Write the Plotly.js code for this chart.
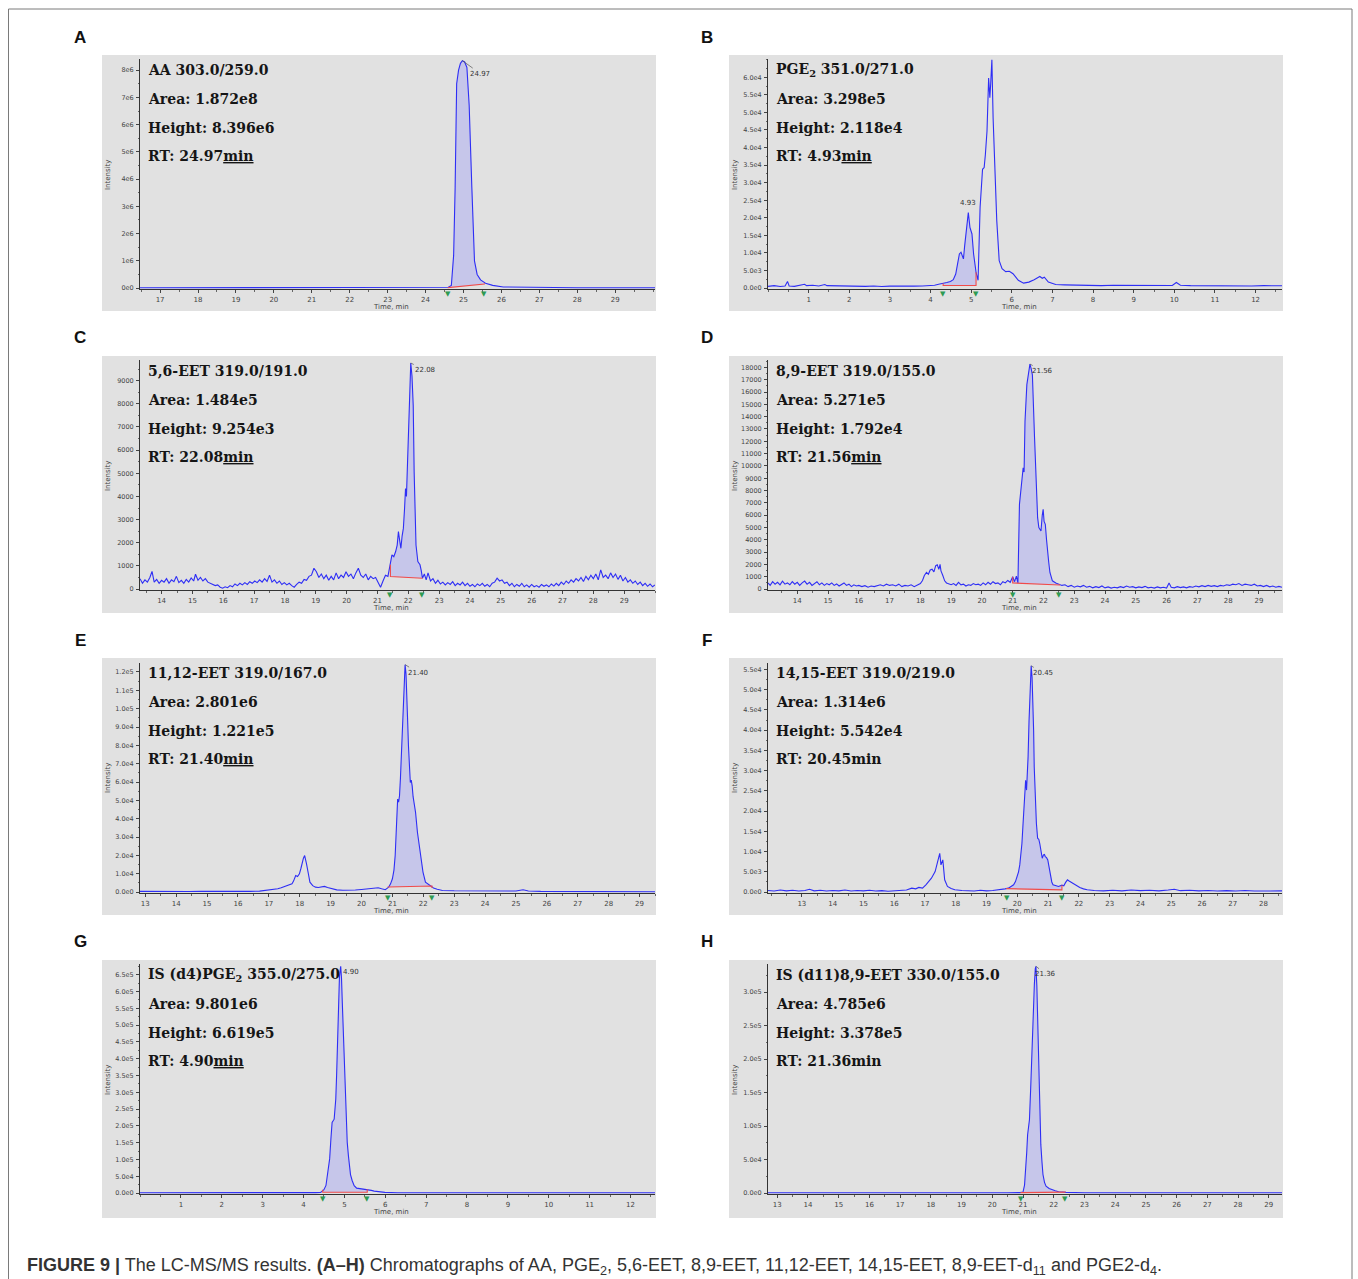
<!DOCTYPE html>
<html><head><meta charset="utf-8">
<script src="https://cdn.plot.ly/plotly-3.0.1.min.js"></script>
<style>html,body{margin:0;padding:0;background:#fff;}#chart{width:1358px;height:1279px;}</style>
</head><body><div id="chart"></div>
<script>
// ---------------- DATA (time in min, intensity in cps) ----------------
const A_points = [[16.47,1e4],[17.5,1e4],[18.5,1e4],[19.5,1.2e4],[20.5,1e4],[21.5,1.2e4],[22.5,1.5e4],[22.9,3e4],[23.3,3e4],[23.8,2e4],[24.3,3e4],[24.6,3e4],[24.68,1e5],[24.74,1.2e6],[24.78,3.7e6],[24.82,7.5e6],[24.87,8.0e6],[24.92,8.25e6],[24.97,8.35e6],[25.03,8.3e6],[25.09,8.1e6],[25.15,6.7e6],[25.22,3.7e6],[25.29,1.0e6],[25.36,5e5],[25.45,3e5],[25.58,1.8e5],[25.77,1e5],[26.05,4e4],[26.5,3e4],[27.0,2e4],[27.5,2e4],[28.0,1e4],[29.0,1e4],[30.05,1e4]];

const B_points = [[0,500],[0.15,700],[0.3,450],[0.42,600],[0.48,1900],[0.52,600],[0.65,500],[0.8,800],[0.9,1100],[0.95,700],[1.1,800],[1.25,600],[1.4,1000],[1.45,700],[1.6,650],[1.8,500],[2.0,600],[2.2,550],[2.4,500],[2.6,600],[2.8,450],[3.0,550],[3.2,500],[3.4,450],[3.6,550],[3.8,600],[3.95,700],[4.1,800],[4.2,1100],[4.31,1300],[4.4,1600],[4.49,1900],[4.56,2400],[4.62,4000],[4.67,7500],[4.71,9700],[4.75,10200],[4.78,9000],[4.81,8300],[4.84,12000],[4.87,15900],[4.9,17800],[4.93,21500],[4.97,17300],[5.02,15400],[5.06,9700],[5.12,4500],[5.17,2200],[5.22,23000],[5.28,33800],[5.32,34300],[5.35,38000],[5.39,44700],[5.43,59800],[5.46,54200],[5.48,58000],[5.51,65000],[5.54,48500],[5.59,28600],[5.63,19200],[5.69,7800],[5.76,5500],[5.85,4700],[5.94,4800],[6.03,4100],[6.16,2200],[6.29,1400],[6.42,1700],[6.55,2400],[6.69,3300],[6.75,2800],[6.8,3100],[6.9,1700],[7.08,1000],[7.3,900],[7.6,800],[7.9,900],[8.2,700],[8.5,800],[8.8,750],[9.1,700],[9.4,650],[9.7,700],[9.95,750],[10.05,1600],[10.15,800],[10.4,700],[10.7,650],[11.0,700],[11.3,600],[11.6,650],[11.9,600],[12.2,700],[12.4,600],[12.65,650]];

const C_points = [[13.30,450],[13.38,250],[13.46,400],[13.54,300],[13.62,500],[13.69,760],[13.76,300],[13.84,420],[13.92,250],[14.00,380],[14.08,300],[14.16,450],[14.24,250],[14.32,400],[14.40,320],[14.48,550],[14.56,280],[14.64,380],[14.72,250],[14.80,420],[14.88,300],[14.96,480],[15.04,350],[15.10,640],[15.18,380],[15.26,500],[15.34,350],[15.42,450],[15.50,300],[15.58,250],[15.66,200],[15.74,150],[15.82,180],[15.90,80],[15.98,40],[16.06,100],[16.14,60],[16.22,150],[16.30,100],[16.38,220],[16.46,150],[16.54,250],[16.62,180],[16.70,280],[16.78,200],[16.86,320],[16.94,250],[17.02,350],[17.10,280],[17.18,400],[17.26,300],[17.34,450],[17.42,330],[17.50,600],[17.58,300],[17.66,400],[17.74,250],[17.82,350],[17.90,200],[17.98,280],[18.06,180],[18.14,250],[18.22,150],[18.30,80],[18.38,200],[18.46,300],[18.54,250],[18.62,420],[18.70,380],[18.78,550],[18.86,600],[18.94,900],[19.02,750],[19.10,500],[19.18,650],[19.26,450],[19.34,600],[19.42,380],[19.50,550],[19.58,400],[19.66,700],[19.74,450],[19.82,600],[19.90,500],[19.98,750],[20.06,550],[20.14,650],[20.22,450],[20.30,700],[20.38,900],[20.46,600],[20.54,500],[20.62,650],[20.70,400],[20.78,550],[20.86,450],[20.94,500],[21.02,300],[21.10,80],[21.18,350],[21.26,600],[21.34,550],[21.42,1050],[21.47,1480],[21.53,1400],[21.59,1620],[21.64,1900],[21.68,2480],[21.72,2100],[21.76,1760],[21.80,2300],[21.84,2620],[21.88,3500],[21.91,4340],[21.94,4000],[21.96,4770],[21.99,6000],[22.01,7200],[22.05,8140],[22.08,9760],[22.12,9200],[22.16,7920],[22.19,5060],[22.22,3500],[22.25,1900],[22.31,1190],[22.38,1050],[22.42,800],[22.46,470],[22.52,650],[22.58,400],[22.64,700],[22.72,350],[22.80,450],[22.88,250],[22.96,380],[23.04,220],[23.12,300],[23.20,180],[23.28,280],[23.36,200],[23.44,320],[23.52,150],[23.60,250],[23.68,180],[23.76,300],[23.84,150],[23.92,250],[24.00,120],[24.08,200],[24.16,100],[24.24,220],[24.32,150],[24.40,250],[24.48,120],[24.56,200],[24.64,100],[24.72,250],[24.80,300],[24.88,470],[24.96,350],[25.04,400],[25.12,250],[25.20,300],[25.28,150],[25.36,250],[25.44,100],[25.52,200],[25.60,120],[25.68,250],[25.76,100],[25.84,180],[25.92,80],[26.00,200],[26.08,100],[26.16,150],[26.24,80],[26.32,200],[26.40,120],[26.48,180],[26.56,100],[26.64,220],[26.72,130],[26.80,250],[26.88,150],[26.96,300],[27.04,200],[27.12,350],[27.20,250],[27.28,400],[27.36,300],[27.44,450],[27.52,350],[27.60,500],[27.68,330],[27.76,550],[27.84,400],[27.92,600],[28.00,450],[28.08,650],[28.16,400],[28.24,830],[28.32,500],[28.40,600],[28.48,450],[28.56,700],[28.64,500],[28.72,650],[28.80,420],[28.88,600],[28.96,350],[29.04,500],[29.12,300],[29.20,400],[29.28,250],[29.36,350],[29.44,200],[29.52,300],[29.60,150],[29.68,250],[29.76,120],[29.84,220],[29.92,100],[30.00,180]];

const D_points = [[13.05,500],[13.12,300],[13.2,600],[13.28,400],[13.36,550],[13.44,350],[13.52,650],[13.6,400],[13.68,500],[13.76,350],[13.84,600],[13.92,400],[14.0,550],[14.08,300],[14.16,500],[14.24,650],[14.32,400],[14.4,550],[14.48,300],[14.56,450],[14.64,600],[14.72,350],[14.8,500],[14.88,300],[14.96,450],[15.04,350],[15.12,500],[15.2,300],[15.28,420],[15.36,250],[15.44,400],[15.52,500],[15.6,300],[15.68,400],[15.76,200],[15.84,350],[15.92,250],[16.0,300],[16.1,200],[16.2,280],[16.3,150],[16.4,250],[16.5,200],[16.6,300],[16.7,350],[16.8,250],[16.9,400],[17.0,300],[17.1,350],[17.2,250],[17.3,400],[17.4,200],[17.5,300],[17.6,250],[17.7,350],[17.8,200],[17.9,300],[18.0,450],[18.07,700],[18.13,1100],[18.2,1350],[18.26,1200],[18.32,1550],[18.38,1620],[18.44,1400],[18.5,1900],[18.55,1970],[18.6,1600],[18.64,2000],[18.67,1480],[18.73,1100],[18.79,670],[18.85,500],[18.92,400],[19.0,350],[19.08,450],[19.16,300],[19.24,550],[19.32,350],[19.4,400],[19.48,250],[19.56,350],[19.64,300],[19.72,450],[19.8,350],[19.88,400],[19.96,300],[20.04,500],[20.12,350],[20.2,550],[20.28,400],[20.36,600],[20.44,450],[20.52,500],[20.6,350],[20.68,600],[20.76,500],[20.84,700],[20.92,550],[21.0,1000],[21.06,600],[21.12,1050],[21.17,500],[21.22,6880],[21.28,8500],[21.34,9850],[21.37,9500],[21.4,13600],[21.46,16600],[21.51,17400],[21.56,18270],[21.6,17900],[21.64,17400],[21.71,12300],[21.78,6600],[21.81,5800],[21.85,5000],[21.92,4720],[21.96,6000],[21.99,6480],[22.02,5500],[22.06,5260],[22.1,4000],[22.13,2830],[22.17,2200],[22.21,1350],[22.25,900],[22.29,670],[22.4,500],[22.5,400],[22.6,300],[22.7,350],[22.8,200],[22.9,300],[23.0,150],[23.1,250],[23.2,180],[23.3,300],[23.4,150],[23.5,220],[23.6,100],[23.7,200],[23.8,120],[23.9,250],[24.0,100],[24.1,180],[24.2,80],[24.3,150],[24.4,100],[24.5,200],[24.6,120],[24.7,250],[24.8,150],[24.9,200],[25.0,100],[25.1,180],[25.2,120],[25.3,220],[25.4,100],[25.5,150],[25.6,80],[25.7,180],[25.8,100],[25.9,150],[26.0,80],[26.08,500],[26.15,150],[26.25,100],[26.35,200],[26.45,120],[26.55,180],[26.65,100],[26.75,200],[26.85,150],[26.95,250],[27.05,180],[27.15,280],[27.25,200],[27.35,300],[27.45,220],[27.55,280],[27.65,200],[27.75,300],[27.85,250],[27.95,350],[28.05,300],[28.15,400],[28.25,350],[28.35,450],[28.45,300],[28.55,400],[28.65,350],[28.75,300],[28.85,400],[28.95,250],[29.05,300],[29.15,200],[29.25,300],[29.35,180],[29.45,250],[29.55,150],[29.65,220],[29.75,150]];

const E_points = [[12.83,400],[13.2,300],[13.6,400],[14.0,350],[14.4,300],[14.8,400],[15.2,300],[15.6,350],[16.0,300],[16.4,400],[16.7,500],[16.94,900],[17.1,1300],[17.29,1800],[17.4,2400],[17.52,3100],[17.62,3800],[17.75,4500],[17.8,6000],[17.87,9000],[17.93,8500],[17.99,9950],[18.04,13000],[18.08,16300],[18.12,18500],[18.16,19900],[18.19,18000],[18.22,15400],[18.28,10000],[18.33,5400],[18.42,3500],[18.51,2700],[18.6,2500],[18.7,3000],[18.8,3100],[18.9,2500],[19.03,1800],[19.2,1200],[19.4,1000],[19.6,900],[19.8,1100],[20.0,1400],[20.15,1700],[20.3,1800],[20.45,2200],[20.54,2350],[20.65,1800],[20.77,1270],[20.88,2700],[20.94,4500],[21.0,7240],[21.05,12000],[21.09,19900],[21.13,35000],[21.17,50700],[21.2,49000],[21.23,52500],[21.26,62000],[21.29,74200],[21.32,90000],[21.35,106800],[21.38,118000],[21.41,124000],[21.44,119000],[21.46,112000],[21.49,95000],[21.52,79600],[21.55,66000],[21.58,59700],[21.61,61000],[21.64,57900],[21.67,52000],[21.7,48900],[21.75,43400],[21.81,32600],[21.86,27000],[21.9,21700],[21.95,15000],[21.99,10900],[22.07,5400],[22.15,4500],[22.22,3600],[22.33,2200],[22.45,1500],[22.62,900],[23.0,700],[23.5,600],[24.0,500],[24.5,500],[25.0,600],[25.23,1270],[25.4,600],[25.8,400],[26.3,350],[26.8,300],[27.3,300],[27.8,250],[28.3,250],[28.8,200],[29.2,200],[29.5,150]];

const F_points = [[11.9,400],[12.1,250],[12.3,500],[12.5,300],[12.7,450],[12.9,250],[13.1,400],[13.25,700],[13.4,300],[13.6,450],[13.8,250],[14.0,400],[14.2,300],[14.4,500],[14.6,250],[14.8,400],[15.0,300],[15.2,450],[15.4,250],[15.6,350],[15.8,200],[16.0,300],[16.2,350],[16.4,500],[16.57,980],[16.7,800],[16.8,1150],[16.92,1000],[17.03,1800],[17.12,2600],[17.21,3440],[17.33,5080],[17.4,7000],[17.44,8770],[17.48,9590],[17.52,6720],[17.58,7950],[17.64,3030],[17.73,1390],[17.85,900],[17.97,570],[18.2,400],[18.4,300],[18.6,250],[18.8,450],[19.0,300],[19.2,400],[19.35,500],[19.48,570],[19.6,800],[19.71,980],[19.8,1400],[19.88,1800],[19.94,2600],[20.0,3850],[20.04,5000],[20.08,6720],[20.12,9000],[20.15,12000],[20.18,16000],[20.21,20200],[20.24,24000],[20.27,27600],[20.3,25200],[20.33,30000],[20.35,33400],[20.38,42000],[20.41,50600],[20.45,55900],[20.48,53000],[20.5,48900],[20.53,40000],[20.55,30900],[20.59,21100],[20.62,17000],[20.66,13300],[20.7,13000],[20.73,12000],[20.77,10000],[20.81,8360],[20.85,9200],[20.88,9300],[20.91,8770],[20.95,8500],[20.99,7950],[21.03,6000],[21.07,3850],[21.12,2500],[21.16,1800],[21.25,1600],[21.34,1390],[21.45,1700],[21.51,1560],[21.57,2400],[21.63,3030],[21.67,2800],[21.71,2620],[21.8,2200],[21.86,1800],[21.95,1400],[22.03,1150],[22.15,800],[22.27,570],[22.5,400],[22.8,300],[23.1,450],[23.4,300],[23.7,500],[24.0,350],[24.3,450],[24.6,300],[24.9,500],[25.1,700],[25.3,350],[25.6,450],[25.9,300],[26.2,400],[26.5,250],[26.8,350],[27.1,250],[27.4,400],[27.7,250],[28.0,300],[28.3,200],[28.6,300]];

const G_points = [[0,1000],[0.5,800],[1.0,1000],[1.5,900],[2.0,1000],[2.5,900],[3.0,1000],[3.5,800],[4.0,1200],[4.3,1500],[4.42,2000],[4.5,10000],[4.55,22700],[4.6,60000],[4.64,101800],[4.67,160000],[4.7,210000],[4.75,220000],[4.79,280000],[4.81,350000],[4.83,447000],[4.86,580000],[4.88,645000],[4.91,675000],[4.93,640000],[4.95,566000],[4.97,500000],[4.98,447000],[5.0,380000],[5.02,300000],[5.05,220000],[5.07,151000],[5.1,110000],[5.12,82000],[5.15,55000],[5.19,37500],[5.24,22000],[5.3,14800],[5.4,13000],[5.47,12800],[5.55,11500],[5.6,10900],[5.66,8000],[5.73,5900],[5.85,3500],[5.99,2000],[6.3,1200],[7.0,1000],[8.0,800],[9.0,900],[10.0,800],[11.0,900],[12.0,800],[12.6,800]];

const H_points = [[12.7,500],[13.5,400],[14.5,500],[15.5,400],[16.5,500],[17.5,400],[18.5,500],[19.5,400],[20.5,500],[20.9,700],[21.0,1500],[21.05,12000],[21.09,32700],[21.12,60000],[21.15,87100],[21.18,100000],[21.21,109400],[21.25,156400],[21.28,200000],[21.32,253000],[21.35,300000],[21.37,312000],[21.4,335000],[21.42,338600],[21.45,310000],[21.47,270000],[21.49,235600],[21.51,185000],[21.53,136600],[21.56,100000],[21.58,72300],[21.62,45000],[21.65,27700],[21.7,16000],[21.75,10400],[21.85,7000],[21.93,5400],[22.05,3500],[22.16,2000],[22.4,1000],[23.0,600],[24.0,500],[24.55,1500],[25.0,500],[26.0,400],[27.0,500],[28.0,400],[29.0,500],[29.43,400]];

// integration bounds (min) and baseline intensities at those bounds
const A_bounds = [24.6, 25.55],  A_base = [2e4, 1.5e5];
const B_bounds = [4.31, 5.12],   B_base = [750, 750];
const C_bounds = [21.42, 22.46], C_base = [545, 470];
const D_bounds = [21.0, 22.52],  D_base = [500, 330];
const E_bounds = [20.86, 22.28], E_base = [2800, 3300];
const F_bounds = [19.65, 21.45], F_base = [850, 550];
const G_bounds = [4.47, 5.56],   G_base = [2500, 2500];
const H_bounds = [20.92, 22.37], H_base = [500, 1500];

// retention-time labels
const RT_labels = ['24.97','4.93','22.08','21.56','21.40','20.45','4.90','21.36'];

// info text
const A_info = ['AA 303.0/259.0','Area: 1.872e8','Height: 8.396e6','RT: 24.97<u>min</u>'];
const B_info = ['PGE<sub>2</sub> 351.0/271.0','Area: 3.298e5','Height: 2.118e4','RT: 4.93<u>min</u>'];
const C_info = ['5,6-EET 319.0/191.0','Area: 1.484e5','Height: 9.254e3','RT: 22.08<u>min</u>'];
const D_info = ['8,9-EET 319.0/155.0','Area: 5.271e5','Height: 1.792e4','RT: 21.56<u>min</u>'];
const E_info = ['11,12-EET 319.0/167.0','Area: 2.801e6','Height: 1.221e5','RT: 21.40<u>min</u>'];
const F_info = ['14,15-EET 319.0/219.0','Area: 1.314e6','Height: 5.542e4','RT: 20.45min'];
const G_info = ['IS (d4)PGE<sub>2</sub> 355.0/275.0','Area: 9.801e6','Height: 6.619e5','RT: 4.90<u>min</u>'];
const H_info = ['IS (d11)8,9-EET 330.0/155.0','Area: 4.785e6','Height: 3.378e5','RT: 21.36min'];

// tick values / labels
const A_xticks = [17,18,19,20,21,22,23,24,25,26,27,28,29];
const B_xticks = [1,2,3,4,5,6,7,8,9,10,11,12];
const C_xticks = [14,15,16,17,18,19,20,21,22,23,24,25,26,27,28,29];
const D_xticks = [14,15,16,17,18,19,20,21,22,23,24,25,26,27,28,29];
const E_xticks = [13,14,15,16,17,18,19,20,21,22,23,24,25,26,27,28,29];
const F_xticks = [13,14,15,16,17,18,19,20,21,22,23,24,25,26,27,28];
const G_xticks = [1,2,3,4,5,6,7,8,9,10,11,12];
const H_xticks = [13,14,15,16,17,18,19,20,21,22,23,24,25,26,27,28,29];

const A_yticks = [0,1e6,2e6,3e6,4e6,5e6,6e6,7e6,8e6];
const A_ylabels = ['0e0','1e6','2e6','3e6','4e6','5e6','6e6','7e6','8e6'];
const B_yticks = [0,5e3,1e4,1.5e4,2e4,2.5e4,3e4,3.5e4,4e4,4.5e4,5e4,5.5e4,6e4];
const B_ylabels = ['0.0e0','5.0e3','1.0e4','1.5e4','2.0e4','2.5e4','3.0e4','3.5e4','4.0e4','4.5e4','5.0e4','5.5e4','6.0e4'];
const C_yticks = [0,1000,2000,3000,4000,5000,6000,7000,8000,9000];
const C_ylabels = ['0','1000','2000','3000','4000','5000','6000','7000','8000','9000'];
const D_yticks = [0,1000,2000,3000,4000,5000,6000,7000,8000,9000,10000,11000,12000,13000,14000,15000,16000,17000,18000];
const D_ylabels = ['0','1000','2000','3000','4000','5000','6000','7000','8000','9000','10000','11000','12000','13000','14000','15000','16000','17000','18000'];
const E_yticks = [0,1e4,2e4,3e4,4e4,5e4,6e4,7e4,8e4,9e4,1e5,1.1e5,1.2e5];
const E_ylabels = ['0.0e0','1.0e4','2.0e4','3.0e4','4.0e4','5.0e4','6.0e4','7.0e4','8.0e4','9.0e4','1.0e5','1.1e5','1.2e5'];
const F_yticks = [0,5e3,1e4,1.5e4,2e4,2.5e4,3e4,3.5e4,4e4,4.5e4,5e4,5.5e4];
const F_ylabels = ['0.0e0','5.0e3','1.0e4','1.5e4','2.0e4','2.5e4','3.0e4','3.5e4','4.0e4','4.5e4','5.0e4','5.5e4'];
const G_yticks = [0,5e4,1e5,1.5e5,2e5,2.5e5,3e5,3.5e5,4e5,4.5e5,5e5,5.5e5,6e5,6.5e5];
const G_ylabels = ['0.0e0','5.0e4','1.0e5','1.5e5','2.0e5','2.5e5','3.0e5','3.5e5','4.0e5','4.5e5','5.0e5','5.5e5','6.0e5','6.5e5'];
const H_yticks = [0,5e4,1e5,1.5e5,2e5,2.5e5,3e5];
const H_ylabels = ['0.0e0','5.0e4','1.0e5','1.5e5','2.0e5','2.5e5','3.0e5'];

const CAPTION = '<b>FIGURE 9 |</b> The LC-MS/MS results. <b>(A–H)</b> Chromatographs of AA, PGE<sub>2</sub>, 5,6-EET, 8,9-EET, 11,12-EET, 14,15-EET, 8,9-EET-d<sub>11</sub> and PGE2-d<sub>4</sub>.';

// ---------------- LAYOUT GEOMETRY ----------------
const W = 1358, H = 1279;
const PX = v => v / W, PY = v => 1 - v / H;
const colPlot = [[140, 655], [768, 1282]];
const colPanel = [[102, 656], [729, 1283]];
const rowPanel = [[55, 311], [356, 613], [658, 915], [960, 1218]];
const rowAxis = [289, 590, 893, 1194];
const PLOT_H = 230;

const panels = [
  {L:'A', c:0, r:0, pts:A_points, xr:[16.47,30.05], ytop:8.41e6, xt:A_xticks, yt:A_yticks, yl:A_ylabels, info:A_info, b:A_bounds, base:A_base, ax:18, ay:13},
  {L:'B', c:1, r:0, pts:B_points, xr:[0,12.65], ytop:6.52e4, xt:B_xticks, yt:B_yticks, yl:B_ylabels, info:B_info, b:B_bounds, base:B_base, above:true},
  {L:'C', c:0, r:1, pts:C_points, xr:[13.3,30.0], ytop:9890, xt:C_xticks, yt:C_yticks, yl:C_ylabels, info:C_info, b:C_bounds, base:C_base, ax:14, ay:7},
  {L:'D', c:1, r:1, pts:D_points, xr:[13.05,29.75], ytop:18600, xt:D_xticks, yt:D_yticks, yl:D_ylabels, info:D_info, b:D_bounds, base:D_base, ax:13, ay:7},
  {L:'E', c:0, r:2, pts:E_points, xr:[12.83,29.5], ytop:1.249e5, xt:E_xticks, yt:E_yticks, yl:E_ylabels, info:E_info, b:E_bounds, base:E_base, ax:13, ay:8},
  {L:'F', c:1, r:2, pts:F_points, xr:[11.9,28.6], ytop:5.66e4, xt:F_xticks, yt:F_yticks, yl:F_ylabels, info:F_info, b:F_bounds, base:F_base, ax:12, ay:7},
  {L:'G', c:0, r:3, pts:G_points, xr:[0,12.6], ytop:6.82e5, xt:G_xticks, yt:G_yticks, yl:G_ylabels, info:G_info, b:G_bounds, base:G_base, ax:10, ay:6},
  {L:'H', c:1, r:3, pts:H_points, xr:[12.7,29.43], ytop:3.42e5, xt:H_xticks, yt:H_yticks, yl:H_ylabels, info:H_info, b:H_bounds, base:H_base, ax:10, ay:8}
];

const LINE_BLUE = '#2e2ef5', FILL = '#c6c6ea', RED = '#f04a4a', GREEN = '#2f9a52';
const TICKFONT = {family:'DejaVu Sans', size:7, color:'#444'};
const traces = [], annotations = [], shapes = [];
const layout = {
  width: W, height: H, margin:{l:0,r:0,t:0,b:0},
  paper_bgcolor:'#ffffff', plot_bgcolor:'rgba(0,0,0,0)', showlegend:false
};

// outer frame
shapes.push({type:'rect', xref:'paper', yref:'paper', x0:PX(8.5), x1:PX(1352), y0:-0.02, y1:PY(9), line:{color:'#7a7a7a', width:1}, layer:'below'});

panels.forEach((p, i) => {
  const n = i === 0 ? '' : String(i + 1);
  const xa = 'x' + n, ya = 'y' + n;
  const T = p.pts.map(d => d[0]), I = p.pts.map(d => d[1]);
  const [pl, pr] = colPlot[p.c];
  const axisY = rowAxis[p.r];
  const [pxl, pxr] = colPanel[p.c];
  const [pyt, pyb] = rowPanel[p.r];

  // grey panel background
  shapes.push({type:'rect', xref:'paper', yref:'paper', x0:PX(pxl), x1:PX(pxr), y0:PY(pyb), y1:PY(pyt), fillcolor:'#e1e1e1', line:{width:0}, layer:'below'});

  // integrated peak area
  const selT = [], selI = [];
  T.forEach((t, k) => { if (t >= p.b[0] && t <= p.b[1]) { selT.push(t); selI.push(I[k]); } });
  traces.push({x: selT.concat([p.b[1], p.b[0]]), y: selI.concat([p.base[1], p.base[0]]), xaxis:xa, yaxis:ya,
    mode:'lines', fill:'toself', fillcolor:FILL, line:{width:0}, hoverinfo:'skip'});

  // chromatogram
  traces.push({x:T, y:I, xaxis:xa, yaxis:ya, mode:'lines', line:{color:LINE_BLUE, width:1.1}, hoverinfo:'skip'});

  // red baseline with end drops
  const nearest = t => { let bi = 0; T.forEach((v, k) => { if (Math.abs(v - t) < Math.abs(T[bi] - t)) bi = k; }); return I[bi]; };
  traces.push({x:[p.b[0], p.b[0], p.b[1], p.b[1]], y:[nearest(p.b[0]), p.base[0], p.base[1], nearest(p.b[1])],
    xaxis:xa, yaxis:ya, mode:'lines', line:{color:RED, width:1.1}, hoverinfo:'skip'});

  // green integration-bound markers just below the time axis
  p.b.forEach(bt => {
    annotations.push({xref:xa, yref:ya, x:bt, y:0, text:'▼', showarrow:false, xanchor:'center', yanchor:'top', yshift:0,
      font:{family:'DejaVu Sans', size:7, color:GREEN}});
  });

  // axes
  layout['xaxis' + n] = {domain:[PX(pl), PX(pr)], anchor:ya, range:p.xr, showline:true, linecolor:'#333', linewidth:1,
    ticks:'outside', ticklen:3, tickwidth:1, tickcolor:'#444', tickmode:'array', tickvals:p.xt, tickfont:TICKFONT,
    showgrid:false, zeroline:false, fixedrange:true, layer:'below traces', ticklabelstandoff:1,
    minor:{ticks:'outside', ticklen:1.5, dtick:0.5, tick0:0, tickcolor:'#666', showgrid:false}};
  const ystep = p.yt[1] - p.yt[0];
  layout['yaxis' + n] = {domain:[PY(axisY), PY(axisY - PLOT_H)], anchor:xa, range:[-p.ytop * 0.004, p.ytop],
    showline:true, linecolor:'#333', linewidth:1, ticks:'outside', ticklen:3, tickwidth:1, tickcolor:'#444',
    tickmode:'array', tickvals:p.yt, ticktext:p.yl, tickfont:{family:'DejaVu Sans', size:6.5, color:'#444'},
    showgrid:false, zeroline:false, fixedrange:true, layer:'below traces', ticklabelstandoff:1,
    minor:{ticks:'outside', ticklen:1.5, dtick:ystep / 2, tick0:0, tickcolor:'#666', showgrid:false}};

  // panel letter
  annotations.push({xref:'paper', yref:'paper', x:PX(pxl - 22), y:PY(pyt - 18), text:'<b>' + p.L + '</b>', showarrow:false,
    xanchor:'center', yanchor:'middle', font:{family:'Liberation Sans', size:17, color:'#111'}});

  // info text block
  p.info.forEach((s, k) => {
    annotations.push({xref:'paper', yref:'paper', x:PX(pl + 6), y:PY(pyt + 15 + k * 28.8), text:'<b>' + s + '</b>', showarrow:false,
      xanchor:'left', yanchor:'middle', font:{family:'DejaVu Serif', size:14, color:'#151515'}});
  });

  // axis titles
  annotations.push({xref:'paper', yref:'paper', x:PX(pxl + 6), y:PY(pyt + 120), text:'Intensity', textangle:-90, showarrow:false,
    xanchor:'center', yanchor:'middle', font:{family:'DejaVu Sans', size:7, color:'#444'}});
  annotations.push({xref:'paper', yref:'paper', x:PX((pl + pr) / 2 - 6), y:PY(axisY + 18), text:'Time, min', showarrow:false,
    xanchor:'center', yanchor:'middle', font:{family:'DejaVu Sans', size:7, color:'#444'}});

  // retention time label at apex of integrated peak
  let ak = 0; selI.forEach((v, k) => { if (v > selI[ak]) ak = k; });
  if (p.above) {
    annotations.push({xref:xa, yref:ya, x:selT[ak], y:selI[ak], text:RT_labels[i], showarrow:false, yshift:10,
      font:{family:'DejaVu Sans', size:7, color:'#333'}});
  } else {
    annotations.push({xref:xa, yref:ya, x:selT[ak], y:selI[ak], text:RT_labels[i], showarrow:true, arrowhead:0,
      arrowwidth:0.7, arrowcolor:'#555', ax:p.ax, ay:p.ay, standoff:0, startstandoff:0,
      font:{family:'DejaVu Sans', size:7, color:'#333'}});
  }
});

// caption
annotations.push({xref:'paper', yref:'paper', x:PX(25), y:PY(1266), text:CAPTION, showarrow:false, xanchor:'left', yanchor:'middle',
  font:{family:'Liberation Sans', size:18, color:'#333'}});

layout.shapes = shapes;
layout.annotations = annotations;
Plotly.newPlot('chart', traces, layout, {staticPlot:true, displayModeBar:false});
</script>
</body></html>
